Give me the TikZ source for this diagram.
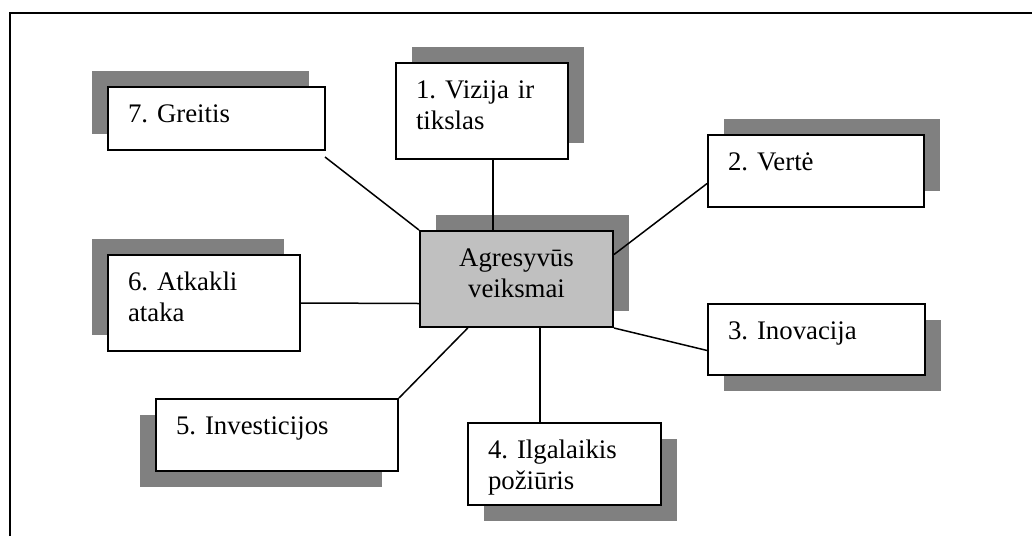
\documentclass[tikz,border=0pt]{standalone}
\usepackage{fontspec}
\setmainfont{Liberation Serif}
\usetikzlibrary{calc,shadows}
\definecolor{ombre}{HTML}{808080}
\definecolor{grisC}{HTML}{C0C0C0}
\frenchspacing
\tikzset{
  cadre/.style={rectangle, draw=black, line width=1pt, fill=white, anchor=north west,
                align=left, font=\fontsize{13.4}{15.5}\selectfont,
                inner xsep=10pt, inner ysep=0pt, text height=17.5pt},
  ombrage/.style 2 args={drop shadow={shadow xshift=#1, shadow yshift=#2, opacity=1, fill=ombre}},
  lien/.style={line width=0.75pt, draw=black},
}
\begin{document}
\begin{tikzpicture}[x=0.5pt, y=-0.5pt]
  \useasboundingbox (0,0) rectangle (1032,536);
  \draw[line width=1pt] (10,536) -- (10,13) -- (1032,13);
  % centre
  \node[cadre, fill=grisC, align=center, ombrage={8pt}{8pt}, text width=76.5pt, text depth=30.5pt] (c) at (419,230) {Agresyvūs\\veiksmai};
  % branches
  \node[cadre, ombrage={8pt}{8pt}, text width=66pt, text depth=30.5pt] (v1) at (395,62) {1. Vizija ir\\tikslas};
  \node[cadre, ombrage={8pt}{8pt}, text width=88pt, text depth=18.5pt] (v2) at (707,134) {2. Vertė};
  \node[cadre, ombrage={8pt}{-8pt}, text width=88.5pt, text depth=18pt] (v3) at (707,303) {3. Inovacija};
  \node[cadre, ombrage={8pt}{-8pt}, text width=76.5pt, text depth=23.5pt] (v4) at (467,422) {4. Ilgalaikis\\požiūris};
  \node[cadre, ombrage={-8pt}{-8pt}, text width=101pt, text depth=18.5pt] (v5) at (155,398) {5. Investicijos};
  \node[cadre, ombrage={-8pt}{8pt}, text width=76pt, text depth=30.5pt] (v6) at (107,254) {6. Atkakli\\ataka};
  \node[cadre, ombrage={-8pt}{8pt}, text width=88.5pt, text depth=14pt] (v7) at (107,86) {7. Greitis};
  \coordinate (f7) at (325,157);
  \draw[lien] ($(c.north west)!.38!(c.north east)$) coordinate (p1) -- (p1 |- v1.south);
  \draw[lien] ($(c.north east)!.25!(c.south east)$) -- ($(v2.north west)!.67!(v2.south west)$);
  \draw[lien] (c.south east) -- ($(v3.north west)!.65!(v3.south west)$);
  \draw[lien] ($(c.south west)!.62!(c.south east)$) coordinate (p4) -- (p4 |- v4.north);
  \draw[lien] ($(c.south west)!.25!(c.south east)$) -- (v5.north east);
  \draw[lien] ($(c.north west)!.75!(c.south west)$) -- (v6.east);
  \draw[lien] (c.north west) -- (f7);
\end{tikzpicture}
\end{document}
